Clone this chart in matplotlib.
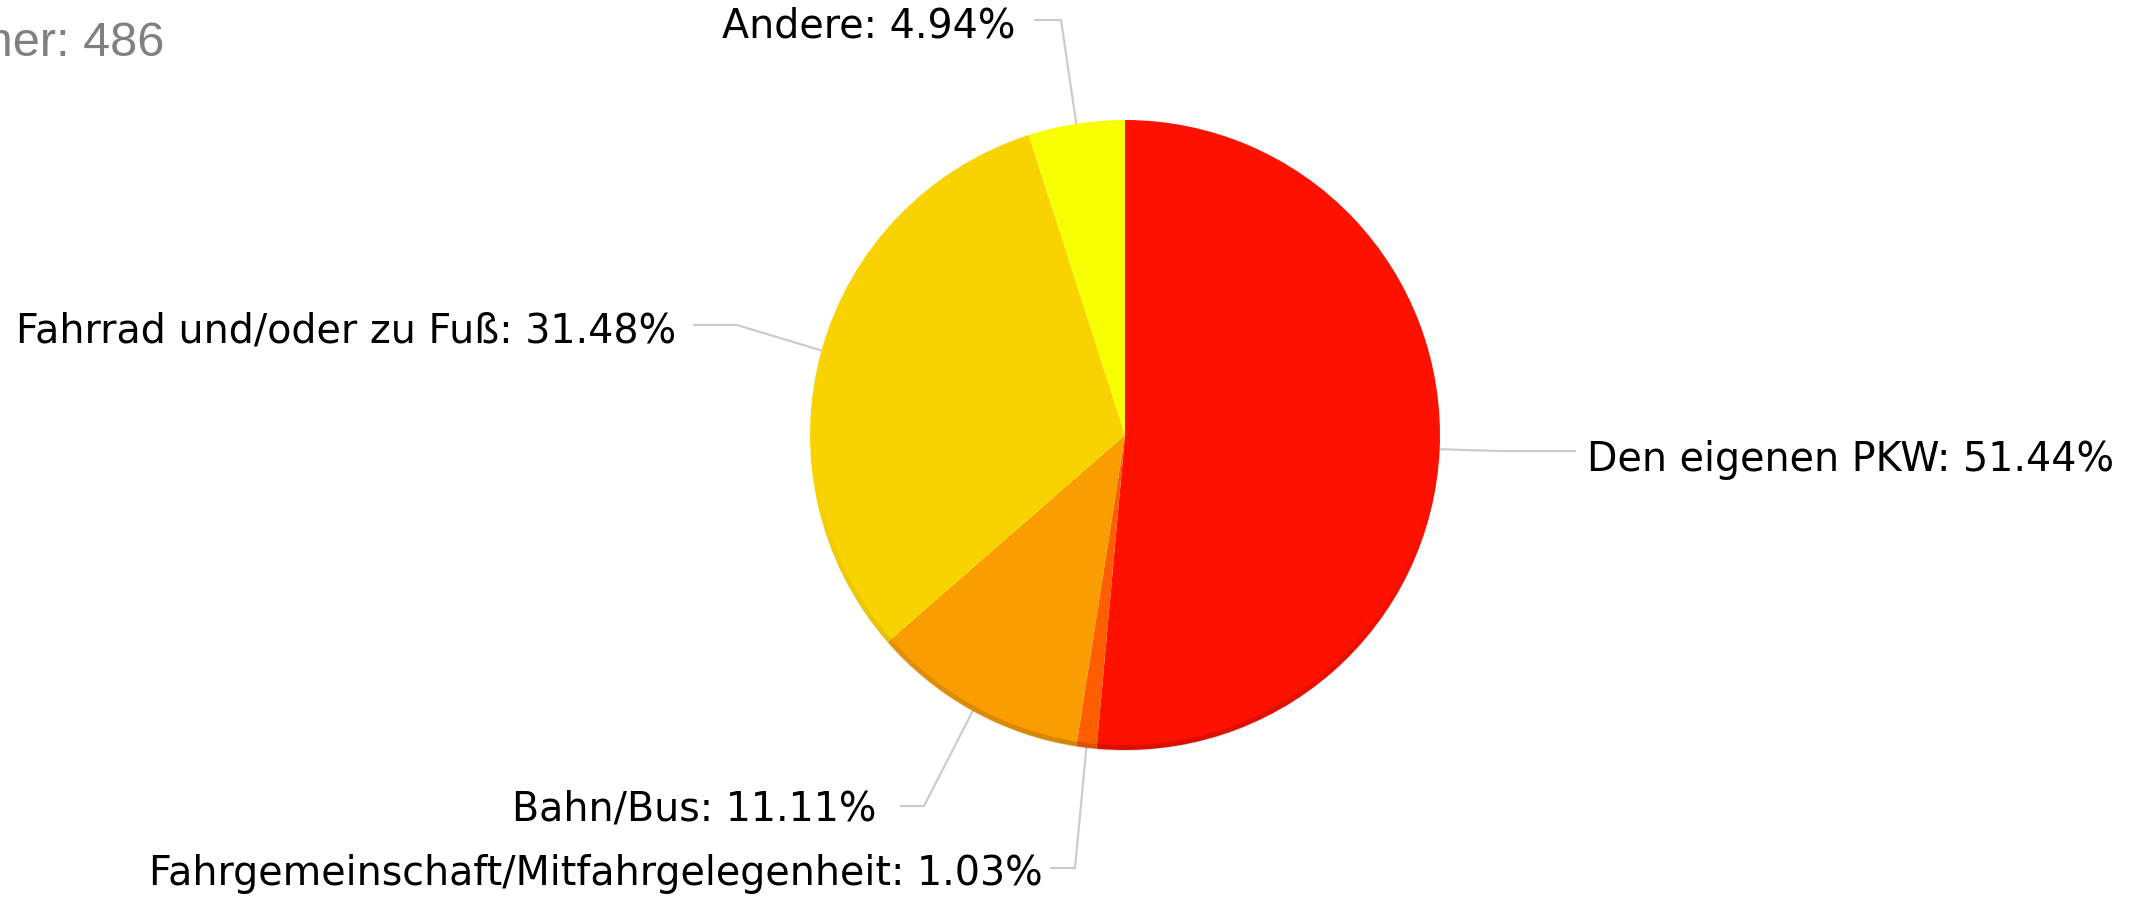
import numpy as np
import matplotlib
matplotlib.use("Agg")
import matplotlib.pyplot as plt
from matplotlib.collections import LineCollection

# ---- data ----
categories = ["Den eigenen PKW", "Fahrgemeinschaft/Mitfahrgelegenheit", "Bahn/Bus",
              "Fahrrad und/oder zu Fuß", "Andere"]
values = [51.44, 1.03, 11.11, 31.48, 4.94]
colors = ["#FF1100", "#FF5E00", "#F99D00", "#F9D300", "#F7FF00"]
participants_label = "Teilnehmer: 486"

W, H = 2141, 899
fig = plt.figure(figsize=(W / 100, H / 100), dpi=100)
ax = fig.add_axes([0, 0, 1, 1])

cx, cy, R = 1125, H - 435, 315
wedges, _ = ax.pie(values, colors=colors, startangle=90, counterclock=False,
                   center=(cx, cy), radius=R, frame=True,
                   wedgeprops=dict(linewidth=0, antialiased=True))
ax.set_xlim(0, W)
ax.set_ylim(0, H)
ax.set_aspect("equal")
ax.axis("off")

# subtle darker rim at the bottom of the pie, fading in and out
theta = np.linspace(np.radians(190), np.radians(350), 160)
pts = np.column_stack([cx + (R - 2) * np.cos(theta), cy + (R - 2) * np.sin(theta)])
segs = np.stack([pts[:-1], pts[1:]], axis=1)
tm = (theta[:-1] + theta[1:]) / 2
alph = 0.14 * np.clip(-np.sin(tm), 0, 1) ** 1.5
rim = LineCollection(segs, colors=[(0, 0, 0, a) for a in alph], linewidths=4)
ax.add_collection(rim)

# label layout: (elbow x, elbow y, end x, text x, text y, ha) in image pixel coords
layout = [
    (1500, 451, 1575, 1587, 460, "left"),
    (1075, 868, 1051, 1043, 874, "right"),
    (924, 806, 901, 876, 810, "right"),
    (737, 325, 694, 676, 332, "right"),
    (1061, 20, 1035, 1015, 27, "right"),
]

for w, cat, val, (ex, ey, endx, tx, ty, ha) in zip(wedges, categories, values, layout):
    mid = np.radians((w.theta1 + w.theta2) / 2)
    px, py = cx + R * np.cos(mid), cy + R * np.sin(mid)
    ax.plot([px, ex, endx], [py, H - ey, H - ey], color="#CCCCCC", lw=1.6,
            solid_joinstyle="miter", zorder=0)
    ax.text(tx, H - ty, f"{cat}: {val:.2f}%", ha=ha, va="center",
            fontsize=28.5, family="DejaVu Sans", color="#000000")

ax.text(164, H - 56, participants_label, ha="right", va="baseline",
        fontsize=35, family="Liberation Sans", color="#808080")

fig.savefig("out.png", dpi=100)
